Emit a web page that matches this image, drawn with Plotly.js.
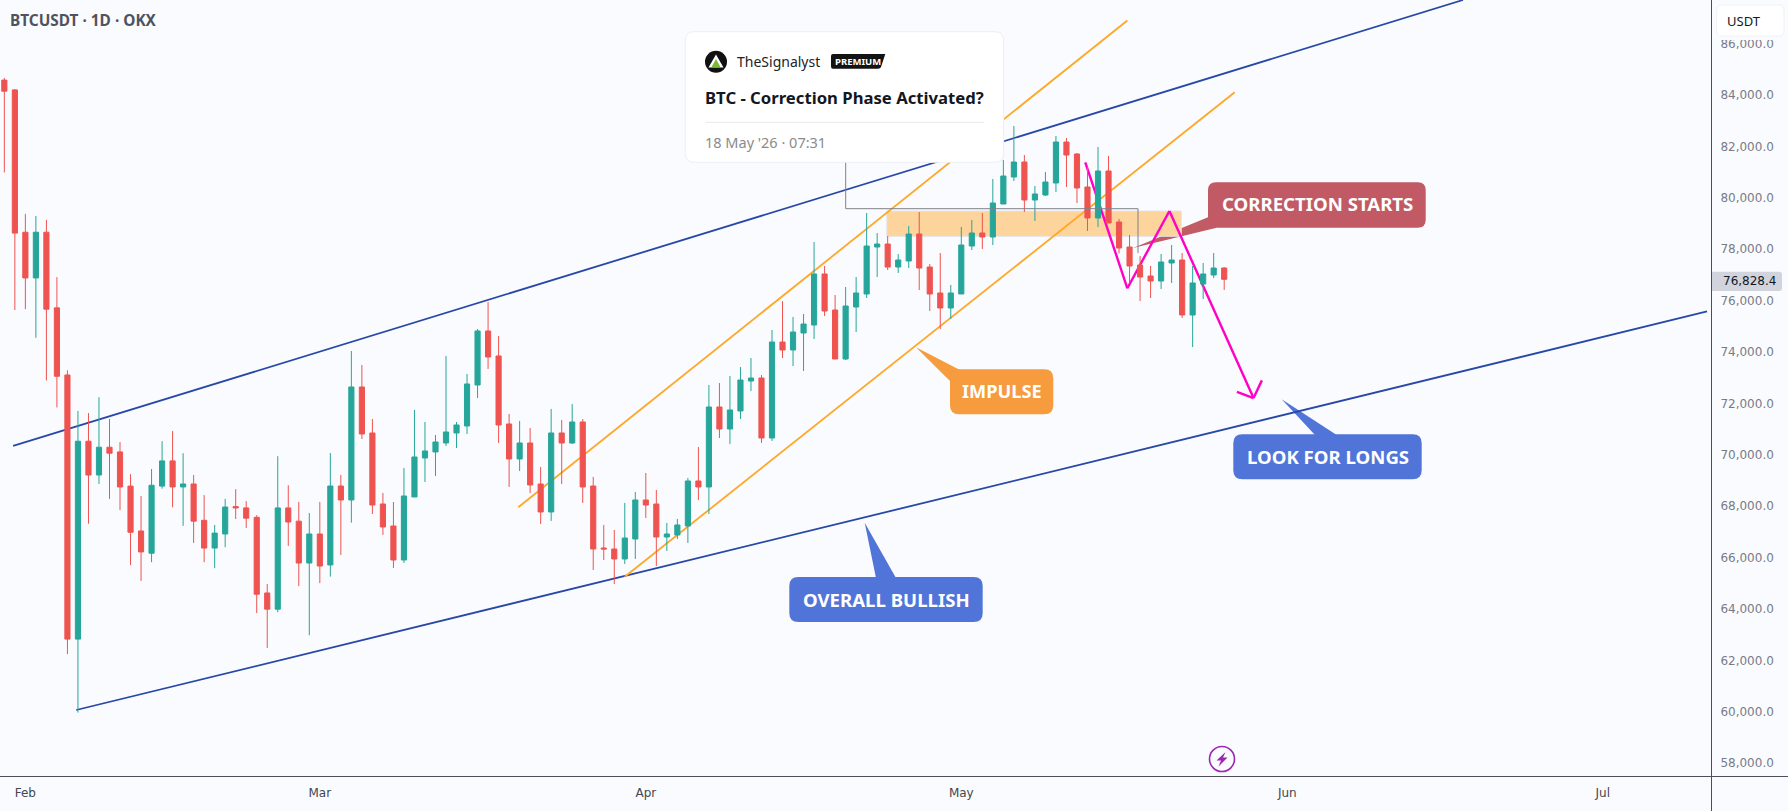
<!DOCTYPE html>
<html><head><meta charset="utf-8">
<script src="https://cdn.plot.ly/plotly-3.0.1.min.js"></script>
<style>html,body{margin:0;padding:0;background:#fafbfe;overflow:hidden}#c{width:1788px;height:811px}</style>
</head><body><div id="c"></div>
<script>
const dates=["2026-01-30","2026-01-31","2026-02-01","2026-02-02","2026-02-03","2026-02-04","2026-02-05","2026-02-06","2026-02-07","2026-02-08","2026-02-09","2026-02-10","2026-02-11","2026-02-12","2026-02-13","2026-02-14","2026-02-15","2026-02-16","2026-02-17","2026-02-18","2026-02-19","2026-02-20","2026-02-21","2026-02-22","2026-02-23","2026-02-24","2026-02-25","2026-02-26","2026-02-27","2026-02-28","2026-03-01","2026-03-02","2026-03-03","2026-03-04","2026-03-05","2026-03-06","2026-03-07","2026-03-08","2026-03-09","2026-03-10","2026-03-11","2026-03-12","2026-03-13","2026-03-14","2026-03-15","2026-03-16","2026-03-17","2026-03-18","2026-03-19","2026-03-20","2026-03-21","2026-03-22","2026-03-23","2026-03-24","2026-03-25","2026-03-26","2026-03-27","2026-03-28","2026-03-29","2026-03-30","2026-03-31","2026-04-01","2026-04-02","2026-04-03","2026-04-04","2026-04-05","2026-04-06","2026-04-07","2026-04-08","2026-04-09","2026-04-10","2026-04-11","2026-04-12","2026-04-13","2026-04-14","2026-04-15","2026-04-16","2026-04-17","2026-04-18","2026-04-19","2026-04-20","2026-04-21","2026-04-22","2026-04-23","2026-04-24","2026-04-25","2026-04-26","2026-04-27","2026-04-28","2026-04-29","2026-04-30","2026-05-01","2026-05-02","2026-05-03","2026-05-04","2026-05-05","2026-05-06","2026-05-07","2026-05-08","2026-05-09","2026-05-10","2026-05-11","2026-05-12","2026-05-13","2026-05-14","2026-05-15","2026-05-16","2026-05-17","2026-05-18","2026-05-19","2026-05-20","2026-05-21","2026-05-22","2026-05-23","2026-05-24","2026-05-25","2026-05-26"];
const opens=[84580,84198,78660,76881,78660,75717,73106,62828,70528,69214,70295,70112,68782,67036,66171,68782,69763,68749,68865,67451,66371,66919,67984,67934,67568,64624,63993,67934,67418,65789,66919,65713,68786,68242,72639,70849,68086,67230,65907,68359,69876,70110,70460,70849,71121,72716,74818,73845,71199,69837,70460,68864,67775,70849,70460,71277,68786,66374,66335,65946,66724,68242,68086,66802,66880,67230,68981,68748,71860,71004,71705,72871,72988,70654,74389,74078,74739,75050,77035,75634,73727,75751,76257,78085,78202,77307,77541,78591,77307,76296,75712,76257,78124,78630,78474,79758,80809,81393,79914,80109,80576,82171,81704,80420,79214,81043,79058,78085,77385,76957,76762,77463,77580,75440,76646,76996,77268];
const highs=[84664,84231,79375,79292,79142,76914,73289,71709,71625,72241,71393,70495,69247,68399,69447,70528,70927,70062,69214,68433,67268,68283,68665,68200,67651,64974,69946,68815,68167,67734,68167,70071,69215,74039,73495,71393,68514,68164,69487,71744,71277,70771,73845,71277,73144,74895,75946,74623,71588,71316,71043,69526,71783,71355,71977,71393,69137,67269,67075,68125,68553,69292,68631,67347,67503,69098,70304,72716,72794,73066,73416,73766,73105,74856,75984,75362,75478,78280,77346,76218,76529,76918,79408,78630,78513,77813,78902,79447,77424,77852,76607,78864,79136,79408,80731,81471,82793,81665,80459,81004,82404,82327,81743,81211,81976,81626,79175,78552,77735,77346,77813,78163,77852,77346,77463,77852,77307];
const lows=[80988,75634,75667,74552,72890,71842,62246,59968,67319,68865,68283,67850,65705,65090,65821,68682,67960,67235,66570,65821,65589,66404,67501,67152,63843,62479,63876,66454,64890,62978,65007,65259,66102,67360,70615,67697,66880,65596,65790,68359,68942,69176,70343,70265,70810,72211,73339,70460,68748,69370,68514,67308,67425,68864,70421,68125,65518,65907,64973,65752,65946,67541,65674,66257,66724,66569,68242,67697,70654,70421,71394,72482,70460,70538,73766,73455,73261,74506,75401,73727,73688,74778,76101,76918,77190,77074,77268,76412,75595,74895,75284,76257,77969,78007,78163,79758,80653,79447,79097,80070,80225,80420,79797,78708,78864,79019,77840,76700,75984,76101,76451,76685,75323,74194,76062,76879,76412];
const closes=[84148,78627,76881,78660,75667,73056,62828,70528,69214,70295,70062,68749,66986,66221,68815,69763,68749,68865,67418,66371,66953,67967,67934,67535,64575,63993,67934,67385,65789,66919,65672,68786,68242,72639,70810,68047,67191,65907,68397,69915,70148,70499,70888,71160,72755,74818,73806,71160,69837,70460,68826,67775,70849,70460,71277,68748,66335,66335,65946,66763,68242,68047,66802,66919,67269,68981,68748,71860,71004,71744,72910,72988,70654,74389,74078,74778,75089,77035,75595,73727,75790,76296,78124,78202,77307,77580,78591,77268,76257,75712,76296,78163,78630,78474,79797,80848,81393,79914,80148,80614,82171,81665,80381,79214,81043,79019,78046,77346,76918,76762,77502,77580,75440,76685,77035,77268,76828.4];

const priceTicks=[58000,60000,62000,64000,66000,68000,70000,72000,74000,76000,78000,80000,82000,84000,86000];
const priceTickLabels=["58,000.0","60,000.0","62,000.0","64,000.0","66,000.0","68,000.0","70,000.0","72,000.0","74,000.0","76,000.0","78,000.0","80,000.0","82,000.0","84,000.0","86,000.0"];
const monthTicks=["2026-02-01","2026-03-01","2026-04-01","2026-05-01","2026-06-01","2026-07-01"];
const monthLabels=["Feb","Mar","Apr","May","Jun","Jul"];

// Drawn trend lines: anchors as [date, price]
const channelUpper=[["2026-01-30 20:00",70343],["2026-06-17 17:00",87696]];
const channelLower=[["2026-02-05 20:00",60070],["2026-07-10 22:00",75576]];
const impulseUpper=[["2026-03-19 21:00",67957],["2026-05-16 19:00",86899]];
const impulseLower=[["2026-03-30 00:00",65257],["2026-05-27 00:00",84105]];
const zoneDates=["2026-04-23 22:00","2026-05-21 22:00"];
const zonePrices=[78502,79486];
const zigzag=[["2026-05-12 19:00",81381],["2026-05-16 19:00",76479],["2026-05-20 19:00",79486],["2026-05-28 19:00",72207]];
const arrowHead=[["2026-05-27 05:00",72452],["2026-05-28 19:00",72207],["2026-05-29 14:00",72896]];

const W=1711,H=776,BG="#fafbfe";
const px=x=>x/W, py=y=>1-y/H;
// Rounded rectangle (optional tail polygon) in screen layout units -> paper units
function P(x,y){return px(x)+","+py(y);}
function rr(x0,y0,x1,y1,r){
  return "M"+P(x0+r,y0)+"L"+P(x1-r,y0)+"Q"+P(x1,y0)+" "+P(x1,y0+r)+"L"+P(x1,y1-r)+"Q"+P(x1,y1)+" "+P(x1-r,y1)+
  "L"+P(x0+r,y1)+"Q"+P(x0,y1)+" "+P(x0,y1-r)+"L"+P(x0,y0+r)+"Q"+P(x0,y0)+" "+P(x0+r,y0)+"Z";
}
function poly(pts){return "M"+pts.map(p=>P(p[0],p[1])).join("L")+"Z";}
function ps(path,fill,layer,line){return {type:"path",xref:"paper",yref:"paper",path:path,fillcolor:fill,layer:layer,line:line||{width:0}};}
function dl(a,color,w){return {type:"line",xref:"x",yref:"y",x0:a[0][0],y0:a[0][1],x1:a[1][0],y1:a[1][1],layer:"below",line:{color:color,width:w}};}
function pl(a,color,w){const s=[];for(let i=0;i<a.length-1;i++)s.push(dl([a[i],a[i+1]],color,w));return s;}
function seg(x0,y0,x1,y1,color,w,layer){return {type:"line",xref:"paper",yref:"paper",x0:px(x0),y0:py(y0),x1:px(x1),y1:py(y1),layer:layer||"above",line:{color:color,width:w}};}

const BLUE="#2848a8",ORANGE="#ffa726",PINK="#ff00c4",CBLUE="#5174d8",CORG="#f69b3e",CRED="rgba(182,62,73,0.85)";
const shapes=[
 {type:"rect",xref:"x",yref:"y",x0:zoneDates[0],x1:zoneDates[1],y0:zonePrices[0],y1:zonePrices[1],layer:"below",fillcolor:"#fdd49b",line:{color:"#e2e3ea",width:1}},
 seg(1140,209,1140,253,BG,2.5,"below"),
 dl(channelUpper,BLUE,1.8),dl(channelLower,BLUE,1.8),dl(impulseUpper,ORANGE,1.8),dl(impulseLower,ORANGE,1.8),
 ps(poly([[1208,217.3],[1216.7,227.7],[1133,248]]),CRED,"below"),
 ps(rr(1208,182.3,1425.7,227.7,8),"#c15a64","below"),
 ...pl(zigzag,PINK,2.4),...pl(arrowHead,PINK,2.4),
 ps(poly([[1315,435],[1336.7,435],[1281.7,399.3]]),CBLUE,"below"),
 ps(rr(1233.3,434.3,1421.7,479.3,9),CBLUE,"below"),
 ps(poly([[876,578],[896,578],[864.7,522.7]]),CBLUE,"below"),
 ps(rr(789.3,577,982.7,622,9),CBLUE,"below"),
 ps(poly([[960,370],[950,381],[916,347.3]]),CORG,"below"),
 ps(rr(950,369.3,1053.3,414.3,9),CORG,"below"),
 // connector from the idea card
 ps("M"+P(845.7,143)+"L"+P(845.7,208.7)+"L"+P(1138,208.7)+"L"+P(1138,253),"rgba(0,0,0,0)","above",{color:"#7f818b",width:1}),
 // idea card
 ps(rr(685.3,31.7,1003.7,162.3,9),"#ffffff","above",{color:"#eeeef2",width:1}),
 {type:"circle",xref:"paper",yref:"paper",x0:px(705),x1:px(727),y0:py(72.7),y1:py(50.7),fillcolor:"#111111",line:{width:0},layer:"above"},
 ps(poly([[716,54.5],[708.5,67.5],[723.5,67.5]]),"#ffffff","above"),
 ps(poly([[716,59],[711.5,67],[720.5,67]]),"#7cb93a","above"),
 ps("M"+P(833,54)+"L"+P(885.3,54)+"L"+P(881,67)+"Q"+P(880.5,68.7)+" "+P(878,68.7)+"L"+P(833,68.7)+"Q"+P(831,68.7)+" "+P(831,66.5)+"L"+P(831,56)+"Q"+P(831,54)+" "+P(833,54)+"Z","#131313","above"),
 seg(705.3,122.3,984,122.3,"#e9e9ec",1),
 // axis frame
 seg(1711.5,0,1711.5,811,"#4c4e59",1),
 seg(0,776.5,1788,776.5,"#4c4e59",1),
 // currency button and last price tag
 ps(poly([[1713,0],[1788,0],[1788,40],[1713,40]]),BG,"above"),
 ps(rr(1716.7,5,1784,36,5),"#ffffff","above",{color:"#f0f1f5",width:1}),
 ps("M"+P(1712,271.7)+"L"+P(1779,271.7)+"Q"+P(1782,271.7)+" "+P(1782,275)+"L"+P(1782,288)+"Q"+P(1782,291)+" "+P(1779,291)+"L"+P(1712,291)+"Z","#d1d4dc","above"),
 // lightning marker
 {type:"circle",xref:"paper",yref:"paper",x0:px(1209.5),x1:px(1234.5),y0:py(771.5),y1:py(746.5),fillcolor:"rgba(0,0,0,0)",line:{color:"#9c27b0",width:1.6},layer:"above"},
 ps(poly([[1225.5,752],[1216.5,760.5],[1221,760.5],[1218.5,766.5],[1227.5,757.5],[1223,757.5]]),"#9c27b0","above")
];
const LBL='"Noto Sans",sans-serif', UI='"DejaVu Sans",sans-serif';
function tx(x,y,text,size,color,anchor,family,bold){
  return {xref:"paper",yref:"paper",x:px(x),y:py(y),text:bold?"<b>"+text+"</b>":text,showarrow:false,xanchor:anchor||"left",yanchor:"middle",xshift:0,yshift:0,font:{size:size,color:color,family:family||LBL},borderpad:0,borderwidth:0};
}
const annotations=[
 tx(10,20,"BTCUSDT · 1D · OKX",15.4,"#50535e","left",LBL,true),
 tx(1317,204,"CORRECTION STARTS",18.6,"#ffffff","center",LBL,true),
 tx(1327.5,456,"LOOK FOR LONGS",18.6,"#ffffff","center",LBL,true),
 tx(886,599,"OVERALL BULLISH",18.6,"#ffffff","center",LBL,true),
 tx(1001.5,391,"IMPULSE",18.2,"#ffffff","center",LBL,true),
 tx(737.3,61.7,"TheSignalyst",14,"#222222","left",LBL,false),
 tx(858,61.5,"PREMIUM",9.5,"#ffffff","center",LBL,true),
 tx(705.3,97.3,"BTC - Correction Phase Activated?",16.7,"#131722","left",LBL,true),
 tx(705.3,141.7,"18 May '26 · 07:31",14.5,"#8b8b8b","left",LBL,false),
 tx(1744,20.5,"USDT",13,"#131722","center",LBL,false),
 tx(1749,281,"76,828.4",12,"#131722","center",UI,false)
];
const trace={type:"candlestick",x:dates,open:opens,high:highs,low:lows,close:closes,whiskerwidth:0,hoverinfo:"skip",
 increasing:{line:{color:"#26a69a",width:1},fillcolor:"#26a69a"},decreasing:{line:{color:"#ef5350",width:1},fillcolor:"#ef5350"}};
const layout={width:1788,height:811,margin:{l:0,r:77,t:0,b:35},paper_bgcolor:BG,plot_bgcolor:BG,showlegend:false,boxgap:0.3,shapes:shapes,annotations:annotations,
 xaxis:{type:"date",range:["2026-01-29 14:06","2026-07-11 07:00"],rangeslider:{visible:false},tickmode:"array",tickvals:monthTicks,ticktext:monthLabels,showgrid:false,zeroline:false,showline:false,ticks:"outside",ticklen:6,tickcolor:BG,tickfont:{family:UI,size:12,color:"#444650"},automargin:false},
 yaxis:{side:"right",range:[57502,87696],tickmode:"array",tickvals:priceTicks,ticktext:priceTickLabels,showgrid:false,zeroline:false,showline:false,ticks:"outside",ticklen:6,tickcolor:BG,tickfont:{family:UI,size:12,color:"#787b86"},automargin:false},
 hovermode:false,dragmode:false};
Plotly.newPlot("c",[trace],layout,{staticPlot:true,displayModeBar:false});
</script></body></html>
